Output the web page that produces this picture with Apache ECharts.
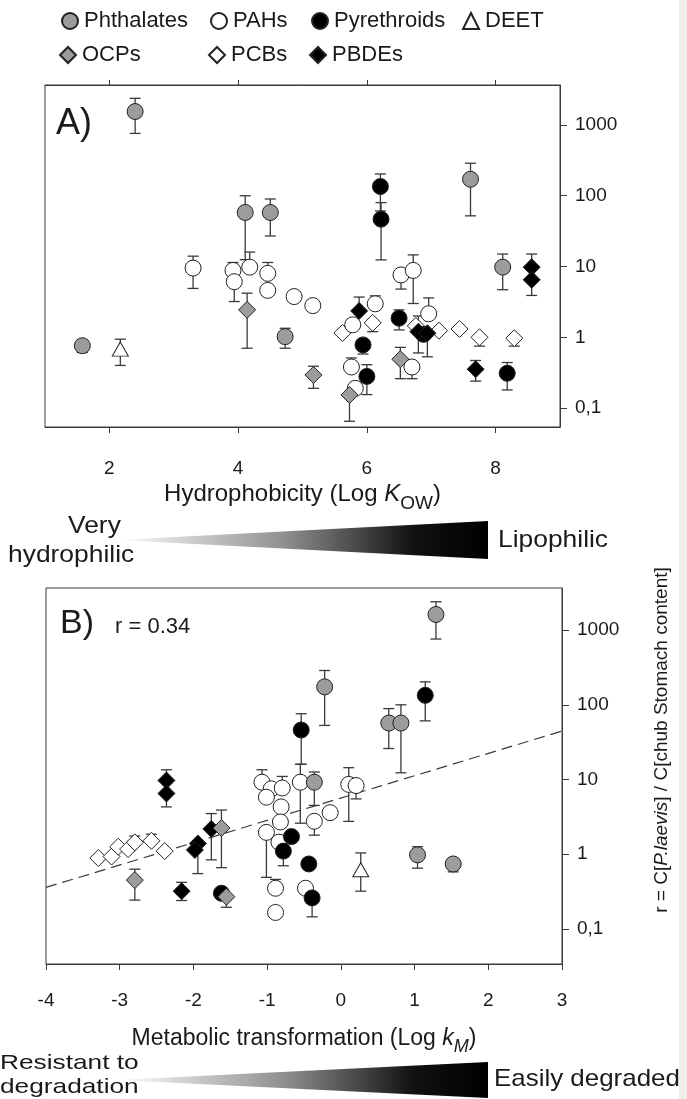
<!DOCTYPE html>
<html><head><meta charset="utf-8">
<script src="https://cdn.jsdelivr.net/npm/echarts@6/dist/echarts.min.js"></script>
<style>html,body{margin:0;padding:0;background:#fff}#c{width:687px;height:1099px}</style>
</head><body><div id="c"></div>
<script>
// ---------- tick labels ----------
const xTicksA = [2, 4, 6, 8];
const xTicksB = [-4, -3, -2, -1, 0, 1, 2, 3];
const yTickValues = [0.1, 1, 10, 100, 1000];
const yTickLabels = ['0,1', '1', '10', '100', '1000'];

// ---------- Panel A: x = Log Kow, y = r ----------
const A_phth_x = [1.58, 2.40, 4.11, 4.50, 4.73, 7.61, 8.11];
const A_phth_y = [0.76, 1550, 58, 58, 1.02, 171, 9.8];
const A_phth_hi = [null, 2380, 100, 90, 1.34, 288, 15];
const A_phth_lo = [0.61, 760, 12.5, 27, 0.70, 52, 4.7];

const A_pah_x = [3.30, 3.92, 3.94, 4.18, 4.46, 4.46, 4.87, 5.16, 5.76, 5.82, 5.78, 6.13, 6.53, 6.72, 6.70, 6.96];
const A_pah_y = [9.5, 8.8, 6.1, 9.8, 8.0, 4.6, 3.76, 2.8, 0.38, 0.19, 1.5, 2.97, 7.6, 8.8, 0.38, 2.15];
const A_pah_hi = [14, 11.4, null, 16, 11.4, null, null, null, 0.51, null, null, 3.85, null, 14.6, null, 3.6];
const A_pah_lo = [4.9, null, 3.2, null, null, null, null, null, null, null, null, null, 4.8, 3.0, 0.26, null];

const A_pyr_x = [6.21, 6.22, 6.50, 5.94, 6.00, 8.18, 6.88];
const A_pyr_y = [135, 46.6, 1.86, 0.78, 0.28, 0.31, 1.1];
const A_pyr_hi = [203, 80, 2.44, null, 0.41, 0.44, null];
const A_pyr_lo = [61, 12.4, 1.27, 0.58, 0.155, 0.18, null];

const A_pbde_x = [5.88, 6.80, 6.94, 7.69, 8.56, 8.56];
const A_pbde_y = [2.36, 1.2, 1.14, 0.354, 9.8, 6.5];
const A_pbde_hi = [3.7, 2.0, null, 0.47, 15, null];
const A_pbde_lo = [null, 0.6, 0.53, 0.24, null, 3.9];

const A_ocp_x = [4.14, 5.17, 5.73, 6.52];
const A_ocp_y = [2.44, 0.294, 0.153, 0.49];
const A_ocp_hi = [4.2, 0.39, null, 0.72];
const A_ocp_lo = [0.70, 0.19, 0.065, 0.26];

const A_pcb_x = [5.62, 6.09, 6.76, 7.12, 7.44, 7.75, 8.29];
const A_pcb_y = [1.15, 1.6, 1.45, 1.24, 1.31, 1.0, 0.97];
const A_pcb_hi = [null, null, null, null, null, null, null];
const A_pcb_lo = [null, 1.2, null, null, null, 0.75, 0.75];

const A_deet_x = [2.17];
const A_deet_y = [0.68];
const A_deet_hi = [0.94];
const A_deet_lo = [0.40];

// ---------- Panel B: x = Log kM, y = r ----------
const B_phth_x = [-0.22, -0.36, 0.65, 0.815, 1.29, 1.04, 1.524];
const B_phth_y = [174, 9.2, 57, 57, 1620, 0.98, 0.74];
const B_phth_hi = [288, 12.6, 89, 100, 2400, 1.26, null];
const B_phth_lo = [53, 4.5, 26, 12.3, 760, 0.65, 0.58];

const B_pah_x = [-1.07, -0.944, -0.795, -1.01, -0.81, -0.82, -1.01, -0.84, -0.55, -0.36, -0.145, 0.107, 0.207, -0.48, -0.886, -0.886];
const B_pah_y = [9.2, 7.5, 7.7, 5.8, 4.3, 2.7, 1.96, 1.45, 9.2, 2.76, 3.6, 8.6, 8.3, 0.35, 0.35, 0.166];
const B_pah_hi = [13.5, null, 11, null, null, null, null, null, 16, null, null, 14.4, null, null, 0.46, null];
const B_pah_lo = [null, null, null, null, null, null, 0.49, null, 2.6, 1.8, null, 2.75, 5.5, null, null, null];

const B_pyr_x = [1.145, -0.538, -0.67, -0.78, -0.435, -0.39, -1.62];
const B_pyr_y = [134, 46, 1.72, 1.1, 0.74, 0.26, 0.3];
const B_pyr_hi = [203, 76, null, null, null, null, null];
const B_pyr_lo = [61, 16, null, 0.7, null, 0.145, null];

const B_pbde_x = [-2.366, -2.366, -1.757, -1.94, -1.98, -2.16];
const B_pbde_y = [9.7, 6.5, 2.18, 1.39, 1.14, 0.32];
const B_pbde_hi = [13.5, null, 3.5, null, null, 0.42];
const B_pbde_lo = [null, 4.3, 0.84, 0.55, null, 0.24];

const B_ocp_x = [-2.795, -1.62, -1.553];
const B_ocp_y = [0.45, 2.24, 0.27];
const B_ocp_hi = [0.63, 3.9, null];
const B_ocp_lo = [0.243, 0.66, 0.195];

const B_pcb_x = [-3.29, -3.11, -3.02, -2.886, -2.795, -2.57, -2.39];
const B_pcb_y = [0.89, 0.93, 1.26, 1.17, 1.44, 1.51, 1.1];
const B_pcb_hi = [null, null, null, null, 1.75, 1.85, null];
const B_pcb_lo = [null, null, null, null, null, null, null];

const B_deet_x = [0.27];
const B_deet_y = [0.62];
const B_deet_hi = [1.04];
const B_deet_lo = [0.32];

// regression line (panel B), r = 0.34
const B_fit_x = [-4, 3];
const B_fit_y = [0.36, 44.5];

// ---------- build ----------
const FONT = '"Liberation Sans", Arial, Helvetica, sans-serif';
const INK = '#1a1a1a';
const LINE = '#3a3a3a';
const lg = Math.log10;

const groupStyles = [
  {key: 'pcb', name: 'PCBs', symbol: 'diamond', size: [17, 17], fill: '#ffffff'},
  {key: 'pah', name: 'PAHs', symbol: 'circle', size: 16, fill: '#ffffff'},
  {key: 'pyr', name: 'Pyrethroids', symbol: 'circle', size: 16, fill: '#000000'},
  {key: 'pbde', name: 'PBDEs', symbol: 'diamond', size: [17, 17], fill: '#000000'},
  {key: 'ocp', name: 'OCPs', symbol: 'diamond', size: [17, 17], fill: '#9c9c9c'},
  {key: 'phth', name: 'Phthalates', symbol: 'circle', size: 16, fill: '#9c9c9c'},
  {key: 'deet', name: 'DEET', symbol: 'triangle', size: [16, 14], fill: '#ffffff'}
];

const panels = [
  {idx: 0, d: {
    pcb: [A_pcb_x, A_pcb_y, A_pcb_hi, A_pcb_lo], pah: [A_pah_x, A_pah_y, A_pah_hi, A_pah_lo],
    pyr: [A_pyr_x, A_pyr_y, A_pyr_hi, A_pyr_lo], pbde: [A_pbde_x, A_pbde_y, A_pbde_hi, A_pbde_lo],
    ocp: [A_ocp_x, A_ocp_y, A_ocp_hi, A_ocp_lo], phth: [A_phth_x, A_phth_y, A_phth_hi, A_phth_lo],
    deet: [A_deet_x, A_deet_y, A_deet_hi, A_deet_lo]}},
  {idx: 1, d: {
    pcb: [B_pcb_x, B_pcb_y, B_pcb_hi, B_pcb_lo], pah: [B_pah_x, B_pah_y, B_pah_hi, B_pah_lo],
    pyr: [B_pyr_x, B_pyr_y, B_pyr_hi, B_pyr_lo], pbde: [B_pbde_x, B_pbde_y, B_pbde_hi, B_pbde_lo],
    ocp: [B_ocp_x, B_ocp_y, B_ocp_hi, B_ocp_lo], phth: [B_phth_x, B_phth_y, B_phth_hi, B_phth_lo],
    deet: [B_deet_x, B_deet_y, B_deet_hi, B_deet_lo]}}
];

function renderErr(params, api) {
  const x = api.value(0);
  const p1 = api.coord([x, api.value(1)]);
  const p2 = api.coord([x, api.value(2)]);
  const hw = 5.5;
  const st = {stroke: LINE, lineWidth: 1.3};
  const ch = [{type: 'line', shape: {x1: p1[0], y1: p1[1], x2: p2[0], y2: p2[1]}, style: st}];
  if (api.value(3)) ch.push({type: 'line', shape: {x1: p1[0] - hw, y1: p1[1], x2: p1[0] + hw, y2: p1[1]}, style: st});
  if (api.value(4)) ch.push({type: 'line', shape: {x1: p2[0] - hw, y1: p2[1], x2: p2[0] + hw, y2: p2[1]}, style: st});
  return {type: 'group', children: ch};
}

const series = [];
panels.forEach(p => {
  groupStyles.forEach(g => {
    const [xs, ys, hi, lo] = p.d[g.key];
    series.push({
      type: 'custom', name: g.name + ' err', xAxisIndex: p.idx === 0 ? 0 : 2, yAxisIndex: p.idx,
      renderItem: renderErr, silent: true, z: 2,
      encode: {x: 0, y: [1, 2]},
      data: xs.map((x, i) => [x, lg(lo[i] != null ? lo[i] : ys[i]), lg(hi[i] != null ? hi[i] : ys[i]),
        lo[i] != null ? 1 : 0, hi[i] != null ? 1 : 0])
    });
  });
});
series.push({
  type: 'line', name: 'fit', xAxisIndex: 2, yAxisIndex: 1, symbol: 'none', silent: true, z: 1,
  lineStyle: {color: LINE, width: 1.2, type: [11, 6]},
  data: B_fit_x.map((x, i) => [x, lg(B_fit_y[i])])
});
panels.forEach(p => {
  groupStyles.forEach((g, k) => {
    const [xs, ys] = p.d[g.key];
    series.push({
      type: 'scatter', name: g.name, xAxisIndex: p.idx === 0 ? 0 : 2, yAxisIndex: p.idx,
      symbol: g.symbol, symbolSize: g.size, z: 3 + k,
      itemStyle: {color: g.fill, borderColor: '#222', borderWidth: 1, opacity: 1},
      emphasis: {disabled: true},
      data: xs.map((x, i) => [x, lg(ys[i])])
    });
  });
});

const yCustom = yTickValues.map(lg);
function yFmt(v) {
  const i = yCustom.findIndex(c => Math.abs(c - v) < 1e-6);
  return i >= 0 ? yTickLabels[i] : '';
}

function titleRich(fs) {
  const ss = Math.round(fs * 0.78);
  return {
    t: {fontSize: fs, fontFamily: FONT, color: INK, lineHeight: fs + 4, verticalAlign: 'top'},
    i: {fontSize: fs, fontFamily: FONT, color: INK, fontStyle: 'italic', lineHeight: fs + 4, verticalAlign: 'top'},
    s: {fontSize: ss, fontFamily: FONT, color: INK, lineHeight: ss + 2, verticalAlign: 'top', padding: [Math.round(fs * 0.48), 0, 0, 0]},
    si: {fontSize: ss, fontFamily: FONT, color: INK, fontStyle: 'italic', lineHeight: ss + 2, verticalAlign: 'top', padding: [Math.round(fs * 0.48), 0, 0, 0]}
  };
}

const axisLineStyle = {show: true, onZero: false, lineStyle: {color: LINE, width: 1}};

const wedgeFill = {type: 'linear', x: 0, y: 0, x2: 1, y2: 0,
  colorStops: [{offset: 0, color: '#ffffff'}, {offset: 0.45, color: '#909090'}, {offset: 0.8, color: '#111111'}, {offset: 1, color: '#000000'}]};
function wedgeText(txt, x, y, fs, sx) {
  return {type: 'text', x: x, y: y, scaleX: sx, silent: true,
    style: {text: txt, font: fs + 'px ' + FONT, fill: INK, verticalAlign: 'top', align: 'left'}};
}

const option = {
  backgroundColor: '#ffffff',
  animation: false,
  textStyle: {fontFamily: FONT},
  grid: [
    {left: 45, top: 85, width: 515, height: 342, show: true, borderColor: LINE, borderWidth: 1, backgroundColor: 'transparent'},
    {left: 46, top: 588, width: 516, height: 376, show: true, borderColor: LINE, borderWidth: 1, backgroundColor: 'transparent'}
  ],
  xAxis: [
    {gridIndex: 0, type: 'value', min: 1, max: 9, position: 'bottom',
     axisLine: axisLineStyle,
     axisTick: {show: true, inside: false, length: 6, customValues: xTicksA, lineStyle: {color: LINE}},
     axisLabel: {customValues: xTicksA, margin: 32, fontSize: 19, color: INK, fontFamily: FONT},
     splitLine: {show: false},
     name: '{t|Hydrophobicity (Log }{i|K}{s|OW}{t|)}', nameLocation: 'middle', nameGap: 55,
     nameTextStyle: {rich: titleRich(24)}},
    {gridIndex: 0, type: 'value', min: 1, max: 9, position: 'top',
     axisLine: axisLineStyle,
     axisTick: {show: true, inside: false, length: 5, customValues: xTicksA, lineStyle: {color: LINE}},
     axisLabel: {show: false}, splitLine: {show: false}},
    {gridIndex: 1, type: 'value', min: -4, max: 3, interval: 1, position: 'bottom',
     axisLine: axisLineStyle,
     axisTick: {show: true, inside: false, length: 6, customValues: xTicksB, lineStyle: {color: LINE}},
     axisLabel: {customValues: xTicksB, margin: 27, fontSize: 19, color: INK, fontFamily: FONT},
     splitLine: {show: false},
     name: '{t|Metabolic transformation (Log }{i|k}{si|M}{t|)}', nameLocation: 'middle', nameGap: 63,
     nameTextStyle: {rich: titleRich(23)}}
  ],
  yAxis: [
    {gridIndex: 0, type: 'value', min: -1.268, max: 3.565, position: 'right',
     axisLine: axisLineStyle,
     axisTick: {show: true, inside: false, length: 7, customValues: yCustom, lineStyle: {color: LINE}},
     axisLabel: {customValues: yCustom, formatter: yFmt, margin: 15, fontSize: 19, color: INK, fontFamily: FONT},
     splitLine: {show: false}},
    {gridIndex: 1, type: 'value', min: -1.47, max: 3.564, position: 'right',
     axisLine: axisLineStyle,
     axisTick: {show: true, inside: false, length: 7, customValues: yCustom, lineStyle: {color: LINE}},
     axisLabel: {customValues: yCustom, formatter: yFmt, margin: 15, fontSize: 19, color: INK, fontFamily: FONT},
     splitLine: {show: false}}
  ],
  legend: [
    ['Phthalates', 61, 10], ['PAHs', 210, 10], ['Pyrethroids', 311, 10], ['DEET', 462, 10],
    ['OCPs', 59, 44], ['PCBs', 208, 44], ['PBDEs', 309, 44]
  ].map(([n, l, t]) => ({
    data: [n], left: l, top: t, padding: 0, itemWidth: 16, itemHeight: 16, itemGap: 0,
    selectedMode: false, textStyle: {fontSize: 22, color: INK, fontFamily: FONT, padding: [0, 0, 0, 1]}
  })),
  graphic: [
    {type: 'rect', shape: {x: 679, y: 0, width: 8, height: 1099}, style: {fill: '#f0eee9'}, silent: true},
    {type: 'text', left: 56, top: 106, style: {text: 'A)', font: '36px ' + FONT, fill: INK}},
    {type: 'text', left: 60, top: 607, style: {text: 'B)', font: '34px ' + FONT, fill: INK}},
    {type: 'text', left: 115, top: 616, style: {text: 'r = 0.34', font: '22px ' + FONT, fill: INK}},
    {type: 'text', x: 662, y: 740, rotation: Math.PI / 2,
     style: {text: '{a|r = C[}{i|P.laevis}{a|] / C[chub Stomach content]}', align: 'center', verticalAlign: 'middle',
       rich: {a: {fontSize: 19, fontFamily: FONT, fill: INK}, i: {fontSize: 19, fontFamily: FONT, fontStyle: 'italic', fill: INK}}}},
    {type: 'polygon', shape: {points: [[116, 540], [488, 521], [488, 559]]}, silent: true, style: {fill: wedgeFill}},
    wedgeText('Very', 68, 514, 24, 1.1),
    wedgeText('hydrophilic', 8, 543, 24, 1.1),
    wedgeText('Lipophilic', 498, 528, 24, 1.1),
    {type: 'polygon', shape: {points: [[116, 1080], [488, 1062], [488, 1098]]}, silent: true, style: {fill: wedgeFill}},
    wedgeText('Resistant to', 0, 1053, 21, 1.25),
    wedgeText('degradation', 0, 1077, 21, 1.25),
    wedgeText('Easily degraded', 494, 1067, 24, 1.08)
  ],
  series: series
};

const chart = echarts.init(document.getElementById('c'), null, {renderer: 'canvas'});
chart.setOption(option);
</script></body></html>
